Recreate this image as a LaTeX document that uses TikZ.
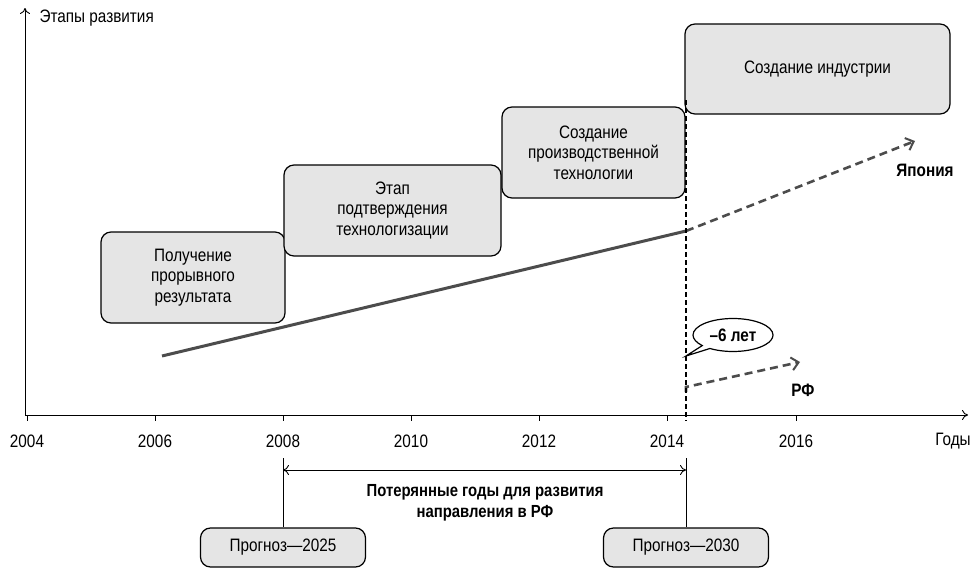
\documentclass[tikz,border=0pt]{standalone}
\usepackage{fontspec}
\setmainfont{Liberation Sans}[FakeStretch=0.85]
\usetikzlibrary{arrows.meta,shapes.callouts}

\begin{document}
\begin{tikzpicture}[x=1pt,y=-1pt,font=\fontsize{18}{20.5}\selectfont]
\tikzstyle{block} = [rectangle, draw=black, line width=1.2pt, fill=gray!20,
 rounded corners=10pt, align=center, inner sep=2pt]
\tikzstyle{axis} = [draw, line width=0.9pt, -{To[length=6pt,width=10pt]}]
\tikzstyle{trend} = [draw, line width=3pt, color=black!70]
\tikzstyle{forecast} = [draw, line width=2.6pt, color=black!70, dash pattern=on 8pt off 5pt,
 -{Straight Barb[length=7pt,width=13pt,line width=2pt]}]
\tikzstyle{tag} = [font=\bfseries\fontsize{18}{20.5}\selectfont]
\useasboundingbox (0,0) rectangle (975,570);

% axes
\coordinate (origin) at (25,415);
\coordinate (ytop) at (25,8);
\coordinate (xend) at (968,415);
\path[axis] (origin) -- (ytop);
\path[axis] (origin) -- (xend);
\node[anchor=west] (ylabel) at (36,18) {Этапы развития};
\node (xlabel) at (953,441) {Годы};
\foreach \yr/\x in {2004/27,2006/155,2008/283,2010/411,2012/539,2014/667,2016/796}
{
 \draw[line width=0.8pt] (\x,415) -- (\x,421);
 \node (y\yr) at (\x,441) {\yr};
}

% stages
\node[block, minimum width=184pt, minimum height=91pt] (stage1) at (193,277.5)
 {Получение\\прорывного\\результата};
\node[block, minimum width=217pt, minimum height=91pt] (stage2) at (392.5,210.5)
 {Этап\\подтверждения\\технологизации};
\node[block, minimum width=183pt, minimum height=91pt] (stage3) at (593.5,152.5)
 {Создание\\производственной\\технологии};
\node[block, minimum width=265pt, minimum height=90pt] (stage4) at (817.5,69)
 {Создание индустрии};

% trends
\coordinate (start) at (162,356);
\coordinate (bend) at (686,231);
\coordinate (jp) at (915,141);
\coordinate (rf0) at (686,392);
\coordinate (rf1) at (686,387);
\coordinate (rf) at (800,362);
\path[trend] (start) -- (bend);
\path[forecast] (bend) -- (jp);
\path[forecast] (rf0) -- (rf1) -- (rf);
\node[tag] (japan) at (925,170) {Япония};
\node[tag] (russia) at (803,390) {РФ};

% gap
\coordinate (gaptop) at (686,100);
\coordinate (gapbot) at (686,421);
\draw[line width=1.2pt, dash pattern=on 5pt off 3pt] (gaptop) -- (gapbot);
\node[ellipse callout, draw, line width=1.2pt, fill=white, minimum width=80pt,
 minimum height=33pt, inner sep=1pt, callout absolute pointer={(686,356)},
 tag] (lag) at (733,335) {–6 лет};

% lost years
\node[block, minimum width=165pt, minimum height=39pt] (fc2025) at (283,547.5) {Прогноз—2025};
\node[block, minimum width=165pt, minimum height=39pt] (fc2030) at (686,547.5) {Прогноз—2030};
\coordinate (l2025) at (283,458);
\coordinate (l2030) at (686,458);
\draw[line width=0.9pt] (l2025) -- (fc2025.north);
\draw[line width=0.9pt] (l2030) -- (fc2030.north);
\draw[line width=0.9pt, {To[length=6pt,width=10pt]}-{To[length=6pt,width=10pt]}]
 (283,470) -- (686,470);
\node[font=\bfseries\fontsize{17.5}{20.5}\selectfont, align=center] (lost) at (485,503)
 {Потерянные годы для развития\\направления в РФ};
\end{tikzpicture}
\end{document}
